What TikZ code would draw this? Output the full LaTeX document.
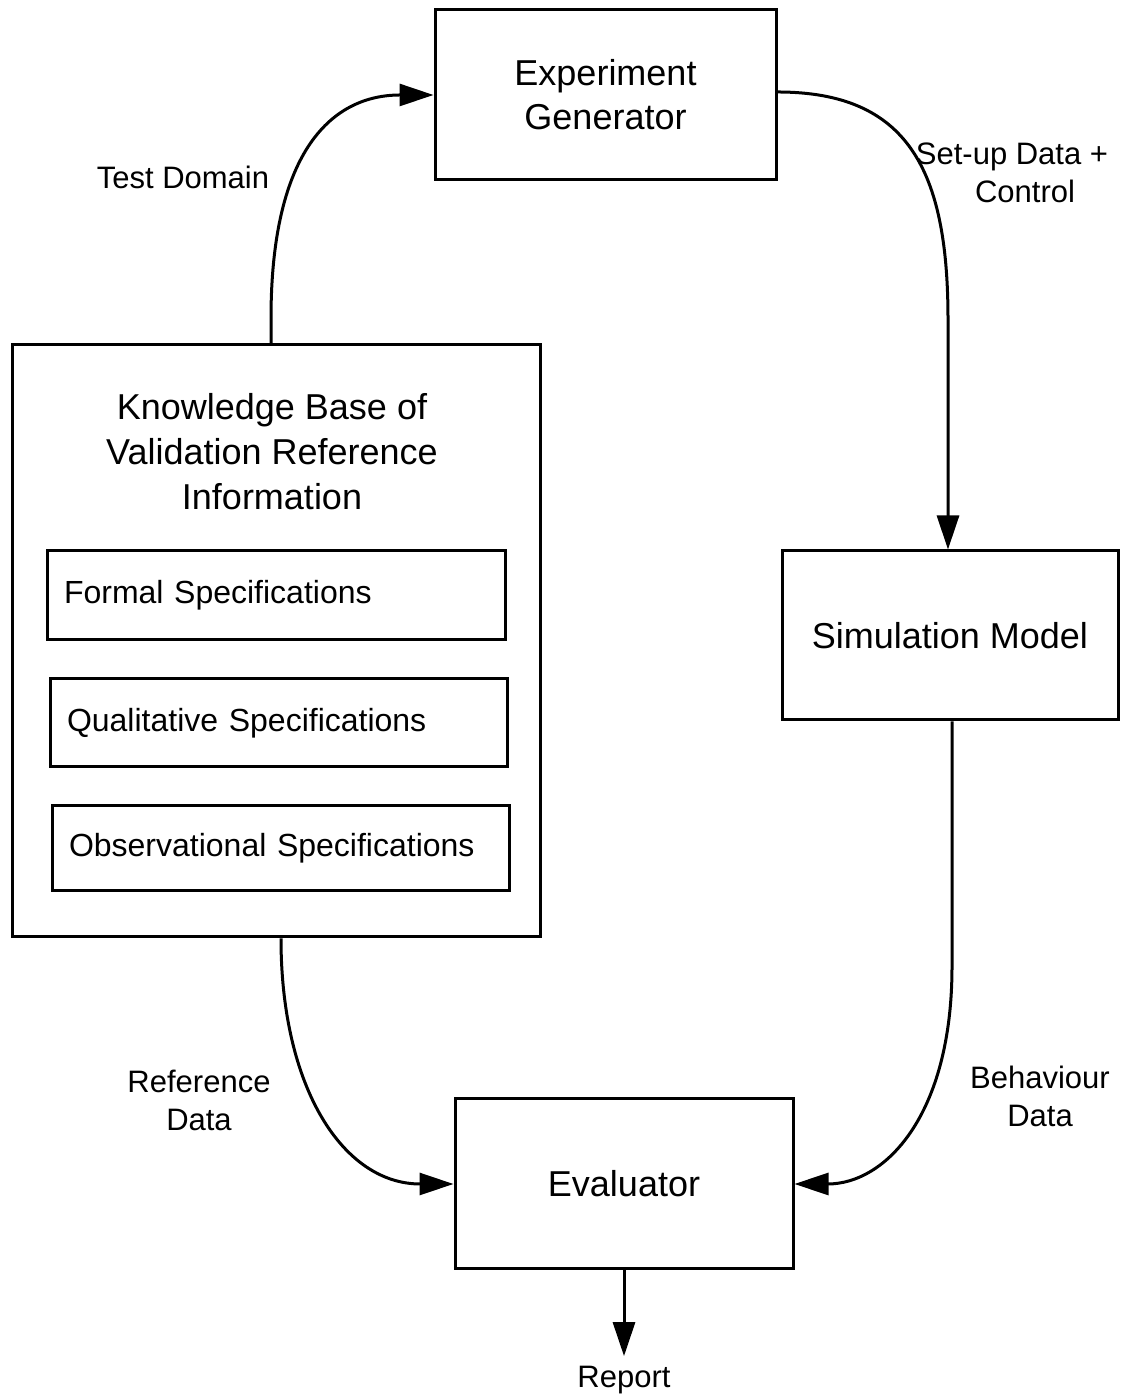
\documentclass[tikz,border=0pt]{standalone}
\usepackage{fontspec}
\setmainfont{Liberation Sans}
\usetikzlibrary{arrows.meta,calc}
\begin{document}
\begin{tikzpicture}[x=1pt,y=1pt,
  box/.style={draw,line width=3pt,inner sep=0pt,align=center,font=\fontsize{36}{44}\selectfont},
  spec/.style={draw,line width=3pt,inner xsep=17pt,inner ysep=0pt,align=left,font=\fontsize{32}{38}\selectfont},
  lbl/.style={align=center,inner sep=0pt,font=\fontsize{31}{38}\selectfont},
  arr/.style={line width=3pt,-{Triangle[length=34pt,width=22pt]}}]
\useasboundingbox (0,0) rectangle (1132,1400);
% boxes
\node[box,minimum width=341pt,minimum height=170pt] (eg) at (605.5,1305) {Experiment\\Generator};
\node[box,minimum width=528pt,minimum height=592pt] (kb) at (276,759) {};
\node[align=center,inner sep=0pt,font=\fontsize{36}{45}\selectfont] (kbt) at (272,948) {Knowledge Base of\\Validation Reference\\Information};
\node[spec,text width=424pt,minimum height=89pt] (fs) at (276,804.5) {Formal Specifications};
\node[spec,text width=423pt,minimum height=88pt] (qs) at (278.5,677) {Qualitative Specifications};
\node[spec,text width=423pt,minimum height=85pt] (os) at (280.5,551.5) {Observational Specifications};
\node[box,minimum width=336pt,minimum height=169pt] (sim) at (950,764.5) {Simulation Model};
\node[box,minimum width=338pt,minimum height=170pt] (ev) at (624,216) {Evaluator};
\node[lbl,outer sep=10pt] (rep) at (624,20) {Report};
% labels
\node[lbl] (ltd) at (183,1223) {Test Domain};
\node[lbl] (lsd) at (1012,1227) {Set-up Data +\\\hspace*{26pt}Control};
\node[lbl] (lrd) at (199,300) {Reference\\Data};
\node[lbl] (lbd) at (1040,304) {Behaviour\\Data};
% connectors
\draw[arr] ([xshift=-5pt]kb.north) -- ++(0,25) .. controls +(0,170) and +(-100,0) .. (eg.west);
\draw[arr] ([yshift=3pt]eg.east) .. controls +(130,0) and +(0,150) .. ($(sim.north)+(-2,230)$) -- ([xshift=-2pt]sim.north);
\draw[arr] ([xshift=2pt]sim.south) -- ++(0,-245) .. controls +(0,-150) and +(90,0) .. (ev.east);
\draw[arr] ([xshift=5pt]kb.south) .. controls +(0,-150) and +(-110,0) .. (ev.west);
\draw[arr] (ev.south) -- (rep.north);
\end{tikzpicture}
\end{document}
